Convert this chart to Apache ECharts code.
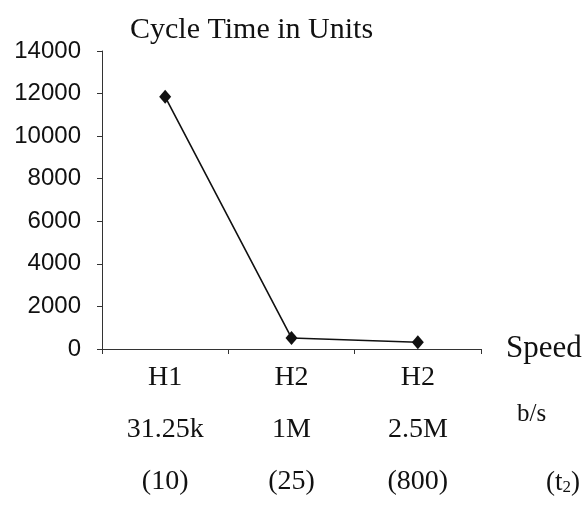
<!DOCTYPE html>
<html>
<head>
<meta charset="utf-8">
<script src="https://cdn.jsdelivr.net/npm/echarts@6/dist/echarts.min.js"></script>
<style>
  html, body { margin: 0; padding: 0; background: #fff; }
  #chart { width: 588px; height: 508px; }
</style>
</head>
<body>
<div id="chart"></div>
<script>
// Bus type, bit rate and (t2) for each configuration
const busTypes = ['H1', 'H2', 'H2'];
const bitRates = ['31.25k', '1M', '2.5M'];
const t2Values = ['(10)', '(25)', '(800)'];
// Cycle time in units for each configuration
const cycleTimes = [11850, 520, 320];
// Vertical axis range
const yMin = 0;
const yMax = 14000;
const yStep = 2000;

const categories = busTypes.map((b, i) => b + '\n' + bitRates[i] + '\n' + t2Values[i]);

const chart = echarts.init(document.getElementById('chart'), null, { renderer: 'canvas' });
const serif = '"Liberation Serif", "Times New Roman", serif';
const sans = '"Liberation Sans", Arial, sans-serif';
const axisColor = '#333';

chart.setOption({
  backgroundColor: '#ffffff',
  animation: false,
  title: {
    text: 'Cycle Time in Units',
    left: 125,
    top: 10,
    textStyle: { fontFamily: serif, fontSize: 30, fontWeight: 'normal', color: '#111' }
  },
  grid: { left: 102, right: 107, top: 51, bottom: 156, containLabel: false },
  xAxis: {
    type: 'category',
    data: categories,
    boundaryGap: true,
    name: 'Speed',
    nameLocation: 'end',
    nameGap: 25,
    nameTextStyle: { fontFamily: serif, fontSize: 31, color: '#111', padding: [6, 0, 0, 0] },
    axisLine: { show: true, lineStyle: { color: axisColor, width: 1 } },
    axisTick: { show: true, length: 5, lineStyle: { color: axisColor } },
    axisLabel: {
      fontFamily: serif, fontSize: 28, color: '#111',
      lineHeight: 52, margin: 3, interval: 0
    },
    splitLine: { show: false }
  },
  yAxis: {
    type: 'value',
    min: yMin, max: yMax, interval: yStep,
    axisLine: { show: true, lineStyle: { color: axisColor, width: 1 } },
    axisTick: { show: true, length: 5, lineStyle: { color: axisColor } },
    axisLabel: {
      fontFamily: sans, fontSize: 24, color: '#111', margin: 21,
      formatter: (v) => String(v)
    },
    splitLine: { show: false }
  },
  graphic: [
    {
      type: 'text', left: 517, top: 402,
      style: { text: 'b/s', font: '25px ' + serif, fill: '#111' }
    },
    {
      type: 'text', left: 546, top: 469,
      style: {
        text: '{a|(t}{s|2}{a|)}',
        rich: {
          a: { fontFamily: serif, fontSize: 27, fill: '#111', color: '#111' },
          s: { fontFamily: serif, fontSize: 17, fill: '#111', color: '#111', padding: [10, 0, 0, 0] }
        }
      }
    }
  ],
  series: [{
    type: 'line',
    data: cycleTimes,
    symbol: 'diamond',
    symbolSize: [12, 14],
    lineStyle: { color: '#111', width: 1.6 },
    itemStyle: { color: '#111' }
  }]
});
</script>
</body>
</html>
